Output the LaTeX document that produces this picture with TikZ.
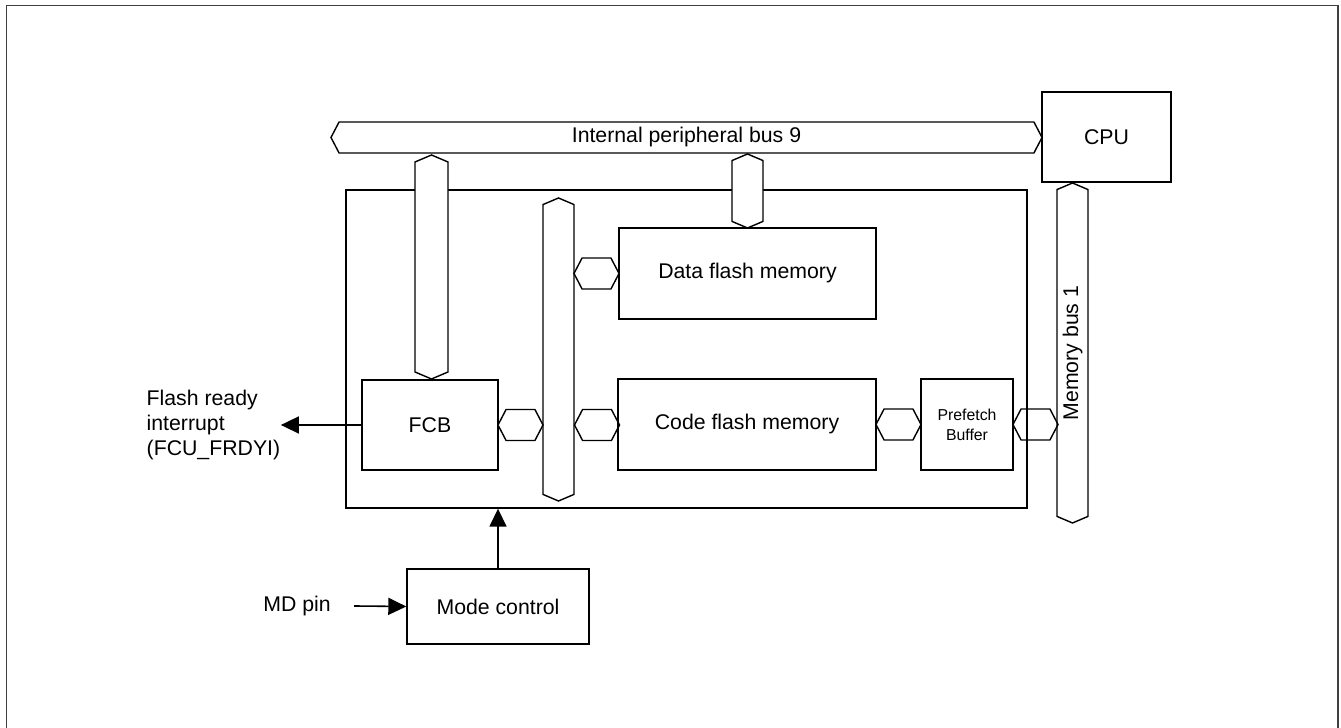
\documentclass[tikz,border=0pt]{standalone}
\usepackage{fontspec}
\setmainfont{Liberation Sans}
\usetikzlibrary{arrows.meta,shapes.symbols}

\begin{document}
\begin{tikzpicture}[
  font=\fontsize{12.1pt}{14.4pt}\selectfont,
  line width=0.8pt,
  box/.style={draw, rectangle, inner sep=0pt, align=center, fill=white},
  bus/.style={draw, signal, signal to=east and west, signal pointer angle=125, inner sep=0pt, minimum height=0.62cm, fill=white},
  vbus/.style={bus, rotate=90, signal pointer angle=134},
  hexa/.style={draw, signal, signal to=east and west, signal pointer angle=125, inner sep=0pt, minimum width=0.9cm, minimum height=0.62cm},
  >={Triangle[length=3.6mm, width=3.4mm]},
  arrline/.style={->, line width=0.9pt},
]
\useasboundingbox (0,0) rectangle (26.82,14.56);
\draw[line width=1pt, black!75] (0.13,0) |- (26.76,14.45) -- (26.76,0);

\node[box, minimum width=13.62cm, minimum height=6.36cm] (flashmod) at (13.73,7.58) {};
\node[box, minimum width=2.72cm, minimum height=1.8cm] (fcb) at (8.6,6.06) {FCB};
\node[box, minimum width=5.14cm, minimum height=1.82cm] (dataflash) at (14.95,9.09) {Data flash memory};
\node[box, minimum width=5.16cm, minimum height=1.82cm] (codeflash) at (14.94,6.07) {Code flash memory};
\node[box, minimum width=1.84cm, minimum height=1.82cm, font=\fontsize{9pt}{11.4pt}\selectfont] (prefetch) at (19.34,6.07) {Prefetch\\Buffer};
\node[box, minimum width=2.58cm, minimum height=1.8cm] (cpu) at (22.13,11.82) {CPU};
\node[box, minimum width=3.64cm, minimum height=1.5cm] (mode) at (9.96,2.43) {Mode control};

% buses
\node[bus, minimum width=14.22cm] (perbus) at (13.73,11.81) {Internal peripheral bus 9};
\node[vbus, minimum width=4.48cm, minimum height=0.66cm] (fcbbus) at (8.63,9.22) {};
\node[vbus, minimum width=6.06cm] (flashbus) at (11.17,7.57) {};
\node[vbus, minimum width=1.48cm] (databus) at (14.95,10.74) {};
\node[vbus, minimum width=6.8cm] (membus) at (21.45,7.5) {Memory bus 1};

\node[hexa] (hxfcb) at (10.41,6.06) {};
\node[hexa] (hxcode) at (11.94,6.06) {};
\node[hexa] (hxdata) at (11.93,9.09) {};
\node[hexa] (hxpre) at (17.97,6.07) {};
\node[hexa] (hxmem) at (20.71,6.07) {};

% signals
\node[align=left, anchor=west, inner sep=0pt] (frdyi) at (2.92,6.06) {Flash ready\\interrupt\\(FCU\_FRDYI)};
\node (mdpin) at (5.94,2.44) {MD pin};
\draw[arrline] (fcb.west) -- (frdyi.east);
\draw[arrline] ([xshift=0.34cm]mdpin.east) -- (mode.west);
\draw[arrline] (mode.north) -- (mode.north |- flashmod.south);
\end{tikzpicture}
\end{document}
